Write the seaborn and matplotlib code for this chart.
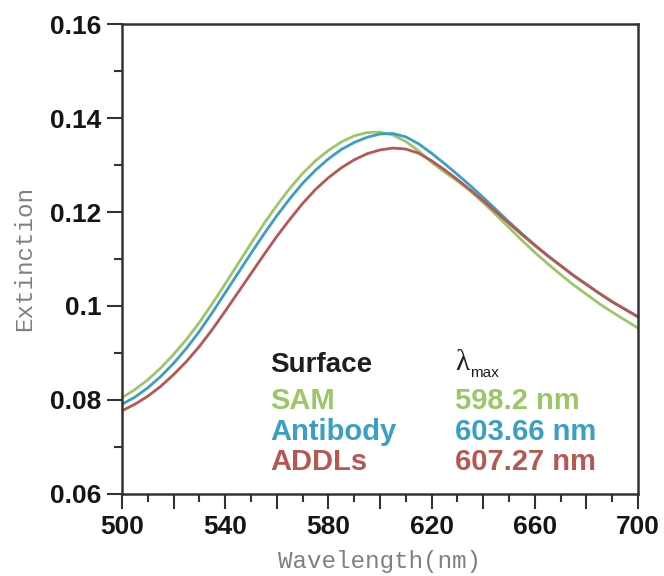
import matplotlib
matplotlib.use("Agg")
import matplotlib.pyplot as plt
import numpy as np
import pandas as pd
import seaborn as sns

# Extinction spectra, every 5 nm
wavelength = list(range(500, 701, 5))
sam = [0.0805, 0.0822, 0.0843, 0.0868, 0.0897, 0.0929, 0.0965, 0.1005, 0.1047, 0.1090,
       0.1133, 0.1175, 0.1214, 0.1250, 0.1282, 0.1309, 0.1331, 0.1349, 0.1362, 0.1369,
       0.1370, 0.1364, 0.1350, 0.1330, 0.1306, 0.1285, 0.1266, 0.1245, 0.1220, 0.1194,
       0.1167, 0.1140, 0.1114, 0.1090, 0.1067, 0.1045, 0.1025, 0.1005, 0.0987, 0.0970,
       0.0953]
antibody = [0.0791, 0.0806, 0.0826, 0.0850, 0.0878, 0.0910, 0.0946, 0.0986, 0.1028, 0.1070,
            0.1112, 0.1153, 0.1192, 0.1228, 0.1261, 0.1289, 0.1313, 0.1333, 0.1348, 0.1359,
            0.1366, 0.1367, 0.1360, 0.1345, 0.1325, 0.1303, 0.1280, 0.1256, 0.1231, 0.1205,
            0.1179, 0.1154, 0.1130, 0.1107, 0.1086, 0.1065, 0.1046, 0.1027, 0.1009, 0.0993,
            0.0977]
addls = [0.0777, 0.0791, 0.0808, 0.0829, 0.0854, 0.0882, 0.0914, 0.0950, 0.0989, 0.1029,
         0.1069, 0.1109, 0.1148, 0.1184, 0.1218, 0.1248, 0.1273, 0.1294, 0.1311, 0.1324,
         0.1332, 0.1336, 0.1334, 0.1325, 0.1309, 0.1290, 0.1269, 0.1247, 0.1224, 0.1200,
         0.1176, 0.1152, 0.1129, 0.1107, 0.1086, 0.1065, 0.1046, 0.1027, 0.1009, 0.0993,
         0.0977]

surfaces = ["SAM", "Antibody", "ADDLs"]
lambda_max = ["598.2 nm", "603.66 nm", "607.27 nm"]
colors = ["#9cc766", "#3a9fc6", "#b75752"]

df = pd.DataFrame({"Wavelength": wavelength * 3,
                   "Extinction": sam + antibody + addls,
                   "Surface": [s for s in surfaces for _ in wavelength]})

sns.set_style("ticks")
plt.rcParams["font.family"] = ["Liberation Sans", "DejaVu Sans"]

fig = plt.figure(figsize=(6.64, 5.76), dpi=100)
ax = fig.add_axes([0.1837, 0.1424, 0.7771, 0.8159])

sns.lineplot(data=df, x="Wavelength", y="Extinction", hue="Surface",
             palette=dict(zip(surfaces, colors)), linewidth=2, legend=False, ax=ax)

ax.set_xlim(500, 700)
ax.set_ylim(0.06, 0.16)

# ticks: x major every 20 (labels every 40), minor every 10
ax.set_xticks(np.arange(500, 701, 20))
ax.set_xticklabels([str(v) if (v - 500) % 40 == 0 else "" for v in range(500, 701, 20)])
ax.set_xticks(np.arange(510, 700, 20), minor=True)
ax.set_yticks([0.06, 0.08, 0.1, 0.12, 0.14, 0.16])
ax.set_yticklabels(["0.06", "0.08", "0.1", "0.12", "0.14", "0.16"])
ax.set_yticks([0.07, 0.09, 0.11, 0.13, 0.15], minor=True)

ax.tick_params(axis="both", which="major", direction="out", length=11, width=1.5,
               color="#333333", labelsize=19, pad=4)
ax.tick_params(axis="both", which="minor", direction="out", length=5.5, width=1.5,
               color="#333333")
for lab in ax.get_xticklabels() + ax.get_yticklabels():
    lab.set_fontweight("bold")
    lab.set_color("#151515")

for side in ["left", "right", "top", "bottom"]:
    ax.spines[side].set_visible(True)
    ax.spines[side].set_linewidth(1.8)
    ax.spines[side].set_color("#333333")

ax.set_xlabel("Wavelength(nm)", family="Liberation Mono", fontsize=17.5, color="#808080", labelpad=8)
ax.set_ylabel("Extinction", family="Liberation Mono", fontsize=17.5, color="#808080", labelpad=10)

# table of peak positions
ax.text(557.4, 0.0874, "Surface", fontsize=20, fontweight="bold", color="#1e1e1e",
        va="center", ha="left")
ax.text(629, 0.0878, "λ", family="Liberation Serif", fontsize=21, color="#1e1e1e",
        va="center", ha="left")
ax.text(635.0, 0.0858, "max", fontsize=11, color="#1e1e1e", va="center", ha="left")
rows_y = [0.0798, 0.0732, 0.0668]
for name, lm, c, yy in zip(surfaces, lambda_max, colors, rows_y):
    ax.text(557.4, yy, name, fontsize=21, fontweight="bold", color=c, va="center", ha="left")
    ax.text(629, yy, lm, fontsize=21, fontweight="bold", color=c, va="center", ha="left")

fig.savefig("out.png", dpi=100, facecolor="white")
